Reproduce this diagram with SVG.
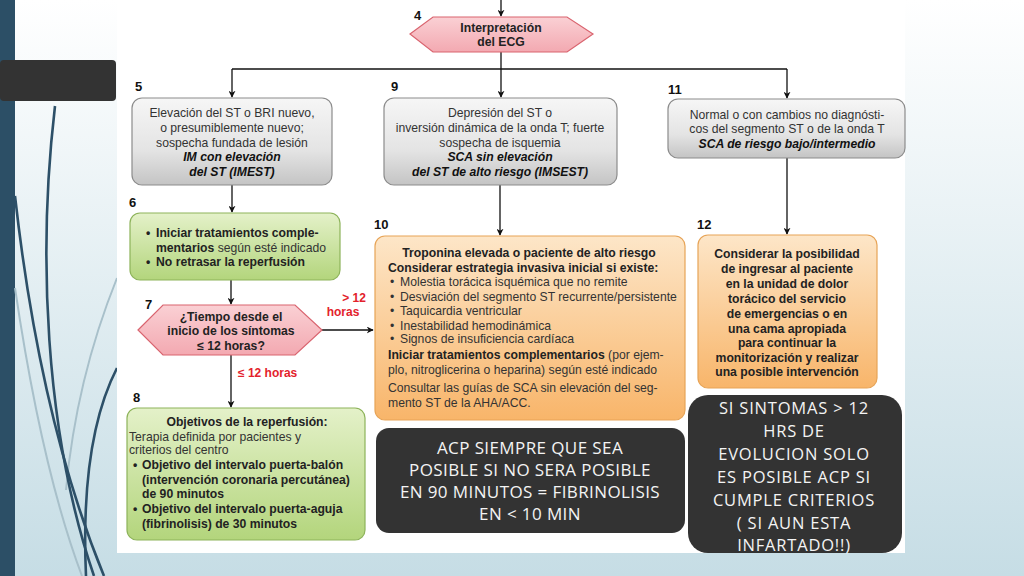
<svg xmlns="http://www.w3.org/2000/svg" width="1024" height="576" viewBox="0 0 1024 576">
<defs>
<linearGradient id="bg" x1="0" y1="0" x2="0" y2="1">
<stop offset="0" stop-color="#ffffff"/>
<stop offset="1" stop-color="#c6dde5"/>
</linearGradient>
<linearGradient id="gGrey" x1="0" y1="0" x2="0" y2="1">
<stop offset="0" stop-color="#f6f6f6"/>
<stop offset="0.6" stop-color="#e4e4e4"/>
<stop offset="1" stop-color="#c4c4c4"/>
</linearGradient>
<linearGradient id="gGreen" x1="0" y1="0" x2="0" y2="1">
<stop offset="0" stop-color="#e4f1c9"/>
<stop offset="1" stop-color="#b3d57c"/>
</linearGradient>
<linearGradient id="gOrange" x1="0" y1="0" x2="0" y2="1">
<stop offset="0" stop-color="#fde6c8"/>
<stop offset="1" stop-color="#f8b56a"/>
</linearGradient>
<linearGradient id="gPink" x1="0" y1="0" x2="0" y2="1">
<stop offset="0" stop-color="#fad0d4"/>
<stop offset="1" stop-color="#f3a9b1"/>
</linearGradient>
<marker id="arr" viewBox="0 0 10 10" refX="9" refY="5" markerWidth="7" markerHeight="7" orient="auto" markerUnits="userSpaceOnUse">
<path d="M0,0 L10,5 L0,10 L3,5 Z" fill="#111"/>
</marker>
</defs>
<style>
.t{font-family:"Liberation Sans",Arial,sans-serif;font-size:12.2px;fill:#333}
.c{text-anchor:middle}
.b{font-weight:bold;fill:#222}
.bi{font-weight:bold;font-style:italic;fill:#111}
.n{font-family:"Liberation Sans",Arial,sans-serif;font-size:13px;font-weight:bold;fill:#111}
.red{font-family:"Liberation Sans",Arial,sans-serif;font-size:12px;font-weight:bold;fill:#e3222c}
.grey{fill:url(#gGrey);stroke:#8c8c8c;stroke-width:1.2}
.green{fill:url(#gGreen);stroke:#8db35a;stroke-width:1.2}
.orange{fill:url(#gOrange);stroke:#e7a457;stroke-width:1.2}
.pink{fill:url(#gPink);stroke:#d9646f;stroke-width:1.2}
.dark{fill:#333333}
.w{font-family:"Open Sans","Liberation Sans",sans-serif;fill:#f4f4f4;text-anchor:middle}
.w1{font-size:17px;letter-spacing:0.4px}
.w2{font-size:16.5px;letter-spacing:0.8px}
.con{fill:none;stroke:#111;stroke-width:1.3}
.curve{fill:none;stroke:#2d5068;stroke-width:2.6}
.curveL{fill:none;stroke:#a8c0ca;stroke-width:2}
</style>

<g id="background">
<rect x="0" y="0" width="1024" height="576" fill="url(#bg)"/>
<rect x="0" y="0" width="15" height="576" fill="#2c4f66"/>
<path class="curveL" d="M15,288 Q42,470 82,576"/>
<path class="curveL" d="M117,278 Q76,380 66,490"/>
<path class="curve" d="M15,196 Q40,420 104,576"/>
<path class="curve" d="M55,106 C38,250 44,430 94,576"/>
<path class="curve" d="M117,368 Q80,440 86,576"/>
<rect x="0" y="60" width="116" height="41" rx="4" fill="#333333"/>
<rect x="117" y="0" width="788" height="553" fill="#ffffff"/>
</g>

<g id="connectors">
<path class="con" d="M501,0 V16" marker-end="url(#arr)"/>
<path class="con" d="M501,52 V97" marker-end="url(#arr)"/>
<path class="con" d="M232,69 H787"/>
<path class="con" d="M232,69 V97" marker-end="url(#arr)"/>
<path class="con" d="M787,69 V98" marker-end="url(#arr)"/>
<path class="con" d="M232,185 V212" marker-end="url(#arr)"/>
<path class="con" d="M500,185 V235" marker-end="url(#arr)"/>
<path class="con" d="M787,158 V234" marker-end="url(#arr)"/>
<path class="con" d="M231,280 V304" marker-end="url(#arr)"/>
<path class="con" d="M322,330 H373" marker-end="url(#arr)"/>
<path class="con" d="M231,355 V407" marker-end="url(#arr)"/>
<text class="red" x="354" y="302" text-anchor="middle">&gt; 12</text>
<text class="red" x="343" y="316" text-anchor="middle">horas</text>
<text class="red" x="238" y="377">≤ 12 horas</text>
</g>

<g id="node4">
<polygon class="pink" points="410,34 433,17 567,17 593,34 567,52 433,52"/>
<text class="n" x="414" y="20">4</text>
<text class="t b c" x="501" y="32">Interpretación</text>
<text class="t b c" x="501" y="46">del ECG</text>
</g>

<g id="node5">
<rect class="grey" x="132" y="98" width="200" height="87" rx="10"/>
<text class="n" x="135" y="91">5</text>
<text class="t c" x="232" y="117">Elevación del ST o BRI nuevo,</text>
<text class="t c" x="232" y="132">o presumiblemente nuevo;</text>
<text class="t c" x="232" y="147">sospecha fundada de lesión</text>
<text class="t bi c" x="232" y="161">IM con elevación</text>
<text class="t bi c" x="232" y="176">del ST (IMEST)</text>
</g>

<g id="node9">
<rect class="grey" x="384" y="98" width="233" height="87" rx="10"/>
<text class="n" x="391" y="91">9</text>
<text class="t c" x="500" y="117">Depresión del ST o</text>
<text class="t c" x="500" y="132">inversión dinámica de la onda T; fuerte</text>
<text class="t c" x="500" y="147">sospecha de isquemia</text>
<text class="t bi c" x="500" y="161">SCA sin elevación</text>
<text class="t bi c" x="500" y="176">del ST de alto riesgo (IMSEST)</text>
</g>

<g id="node11">
<rect class="grey" x="668" y="99" width="237" height="59" rx="10"/>
<text class="n" x="668" y="94">11</text>
<text class="t c" x="787" y="119">Normal o con cambios no diagnósti-</text>
<text class="t c" x="787" y="133">cos del segmento ST o de la onda T</text>
<text class="t bi c" x="787" y="148">SCA de riesgo bajo/intermedio</text>
</g>

<g id="node6">
<rect class="green" x="130" y="213" width="210" height="67" rx="10"/>
<text class="n" x="129" y="207">6</text>
<text class="t b" x="146" y="237">•</text>
<text class="t b" x="156" y="237">Iniciar tratamientos comple-</text>
<text class="t" x="156" y="252"><tspan class="b">mentarios</tspan> según esté indicado</text>
<text class="t b" x="146" y="266">•</text>
<text class="t b" x="156" y="266">No retrasar la reperfusión</text>
</g>

<g id="node7">
<polygon class="pink" points="138,330 163,305 295,305 322,330 295,355 163,355"/>
<text class="n" x="145" y="309">7</text>
<text class="t b c" x="231" y="321">¿Tiempo desde el</text>
<text class="t b c" x="231" y="335">inicio de los síntomas</text>
<text class="t b c" x="231" y="350">≤ 12  horas?</text>
</g>

<g id="node8">
<rect class="green" x="127" y="408" width="238" height="132" rx="10"/>
<text class="n" x="133" y="402">8</text>
<text class="t b c" x="247" y="426">Objetivos de la reperfusión:</text>
<text class="t" x="129" y="441">Terapia definida por pacientes y</text>
<text class="t" x="129" y="454">criterios del centro</text>
<text class="t b" x="133" y="469">•</text>
<text class="t b" x="142" y="469">Objetivo del intervalo puerta-balón</text>
<text class="t b" x="142" y="484">(intervención coronaria percutánea)</text>
<text class="t b" x="142" y="498">de 90 minutos</text>
<text class="t b" x="133" y="513">•</text>
<text class="t b" x="142" y="513">Objetivo del intervalo puerta-aguja</text>
<text class="t b" x="142" y="528">(fibrinolisis) de 30 minutos</text>
</g>

<g id="node10">
<rect class="orange" x="375" y="236" width="310" height="184" rx="10"/>
<text class="n" x="374" y="229">10</text>
<text class="t b c" x="529" y="257">Troponina elevada o paciente de alto riesgo</text>
<text class="t b" x="388" y="272">Considerar estrategia invasiva inicial si existe:</text>
<text class="t" x="390" y="286">•</text><text class="t" x="400" y="286">Molestia torácica isquémica que no remite</text>
<text class="t" x="390" y="301">•</text><text class="t" x="400" y="301">Desviación del segmento ST recurrente/persistente</text>
<text class="t" x="390" y="315">•</text><text class="t" x="400" y="315">Taquicardia ventricular</text>
<text class="t" x="390" y="330">•</text><text class="t" x="400" y="330">Inestabilidad hemodinámica</text>
<text class="t" x="390" y="343">•</text><text class="t" x="400" y="343">Signos de insuficiencia cardíaca</text>
<text class="t" x="388" y="359"><tspan class="b">Iniciar tratamientos complementarios</tspan> (por ejem-</text>
<text class="t" x="388" y="374">plo, nitroglicerina o heparina) según esté indicado</text>
<text class="t" x="388" y="392">Consultar las guías de SCA sin elevación del seg-</text>
<text class="t" x="388" y="407">mento ST de la AHA/ACC.</text>
</g>

<g id="node12">
<rect class="orange" x="698" y="235" width="179" height="153" rx="10"/>
<text class="n" x="697" y="229">12</text>
<text class="t b c" x="787" y="258">Considerar la posibilidad</text>
<text class="t b c" x="787" y="273">de ingresar al paciente</text>
<text class="t b c" x="787" y="288">en la unidad de dolor</text>
<text class="t b c" x="787" y="303">torácico del servicio</text>
<text class="t b c" x="787" y="318">de emergencias o en</text>
<text class="t b c" x="787" y="333">una cama apropiada</text>
<text class="t b c" x="787" y="347">para continuar la</text>
<text class="t b c" x="787" y="362">monitorización y realizar</text>
<text class="t b c" x="787" y="376">una posible intervención</text>
</g>

<g id="noteACP">
<rect class="dark" x="376" y="428" width="309" height="105" rx="13"/>
<text class="w w1" x="530" y="454">ACP SIEMPRE QUE SEA</text>
<text class="w w1" x="530" y="476">POSIBLE SI NO SERA POSIBLE</text>
<text class="w w1" x="530" y="498">EN 90 MINUTOS = FIBRINOLISIS</text>
<text class="w w1" x="530" y="520">EN &lt; 10 MIN</text>
</g>

<g id="noteSintomas">
<rect class="dark" x="688" y="395" width="214" height="158" rx="20"/>
<text class="w w2" x="794" y="414">SI SINTOMAS &gt; 12</text>
<text class="w w2" x="794" y="437">HRS DE</text>
<text class="w w2" x="794" y="460">EVOLUCION SOLO</text>
<text class="w w2" x="794" y="483">ES POSIBLE ACP SI</text>
<text class="w w2" x="794" y="506">CUMPLE CRITERIOS</text>
<text class="w w2" x="794" y="529">( SI AUN ESTA</text>
<text class="w w2" x="794" y="551">INFARTADO!!)</text>
</g>
</svg>
